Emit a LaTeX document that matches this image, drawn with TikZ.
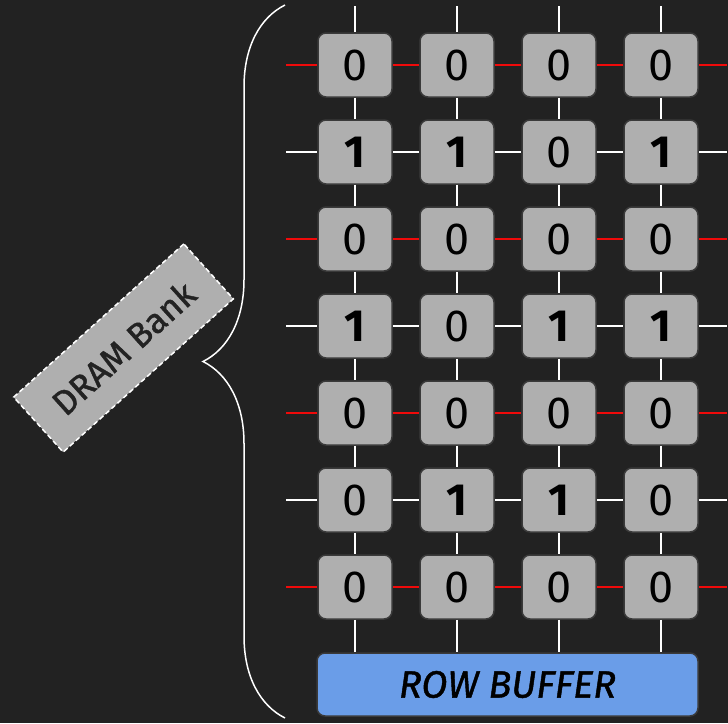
\documentclass[tikz,border=0pt]{standalone}
\usepackage{fontspec}
\setmainfont{Fira Sans}
\newfontfamily\labelfont[FakeBold=1.2]{Fira Sans}
\usetikzlibrary{decorations.pathreplacing}
\definecolor{bg}{HTML}{222222}
\definecolor{cellfill}{HTML}{AFAFAF}
\definecolor{cellborder}{HTML}{3A3A3A}
\definecolor{wire}{HTML}{F00A0A}
\definecolor{bufblue}{HTML}{6A9DE8}
\definecolor{labeltext}{HTML}{222222}
\newcommand{\bitval}[1]{\ifnum#1=1 \textbf{1}\else 0\fi}
\begin{document}
\begin{tikzpicture}[x=1pt,y=-1pt,
  cell/.style={draw=cellborder, line width=1.5pt, fill=cellfill, rounded corners=8pt,
    minimum width=74pt, minimum height=64pt, inner sep=0pt, text=black,
    font=\fontsize{45}{45}\selectfont},
  buffer/.style={draw=cellborder, line width=1.5pt, fill=bufblue, rounded corners=8pt,
    minimum width=381pt, minimum height=63pt, inner sep=0pt, text=black,
    font=\labelfont\fontsize{38}{38}\selectfont\itshape},
  banklabel/.style={draw=white, dash pattern=on 5pt off 3pt, line width=1.5pt, fill=cellfill,
    minimum width=229pt, minimum height=74pt, inner sep=0pt, text=labeltext,
    font=\labelfont\fontsize{35}{35}\selectfont},
  wireline/.style={line width=2pt},
  bracestyle/.style={draw=white, line width=1.5pt, decorate, decoration={brace, amplitude=82pt}}
]
\fill[bg] (0,0) rectangle (728,723);
\useasboundingbox (0,0) rectangle (728,723);

% cells
\foreach \row [count=\r from 0] in {{0,0,0,0},{1,1,0,1},{0,0,0,0},{1,0,1,1},{0,0,0,0},{0,1,1,0},{0,0,0,0}} {
  \foreach \v [count=\c from 0] in \row {
    \node[cell] (c-\r-\c) at (355+102*\c, 65+87*\r) {\bitval{\v}};
  }
  \coordinate (L\r) at (286, 65+87*\r);
  \coordinate (R\r) at (727, 65+87*\r);
}

% row buffer
\node[buffer] (buf) at (507.5,684.5) {ROW BUFFER};

% horizontal wires
\foreach \r/\col in {0/wire,1/white,2/wire,3/white,4/wire,5/white,6/wire} {
  \draw[wireline, draw=\col] (L\r) -- (c-\r-0) -- (c-\r-1) -- (c-\r-2) -- (c-\r-3) -- (R\r);
}

% vertical wires
\foreach \c in {0,1,2,3} {
  \coordinate (T\c) at (355+102*\c, 6);
  \coordinate (B\c) at (c-6-\c |- buf.north);
  \draw[wireline, draw=white] (T\c) -- (c-0-\c) -- (c-1-\c) -- (c-2-\c) -- (c-3-\c)
     -- (c-4-\c) -- (c-5-\c) -- (c-6-\c) -- (B\c);
}

% brace
\coordinate (braceBot) at (285,718);
\coordinate (braceTop) at (285,5);
\draw[bracestyle] (braceBot) -- (braceTop);

% label
\node[banklabel, rotate=42] (bank) at (123.5,348) {DRAM Bank};
\end{tikzpicture}
\end{document}
